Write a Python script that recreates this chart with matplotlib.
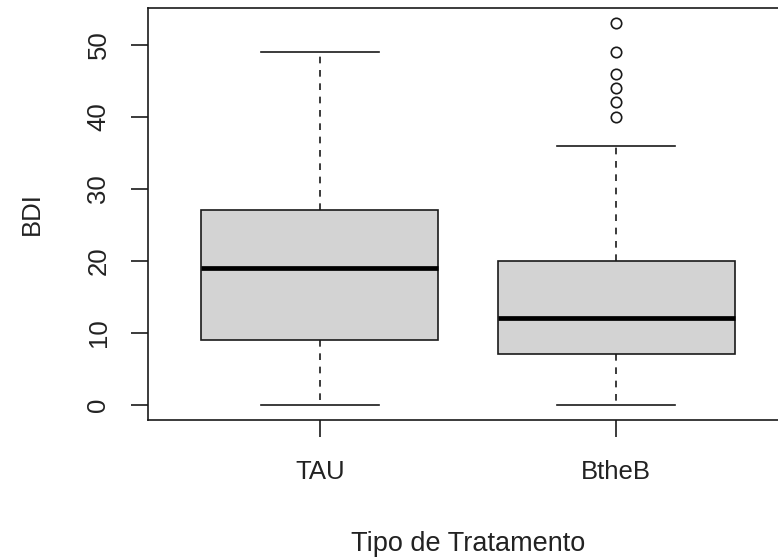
import matplotlib
matplotlib.use("Agg")
import matplotlib.pyplot as plt

plt.rcParams['font.family'] = ['Liberation Sans', 'DejaVu Sans']

# valores
grupos = ["TAU", "BtheB"]
q1 = [9, 7]
mediana = [19, 12]
q3 = [27, 20]
bigote_inf = [0, 0]
bigote_sup = [49, 36]
atipicos = [[], [40, 42, 44, 46, 49, 53]]

stats = []
for i in range(len(grupos)):
    stats.append({
        "label": grupos[i],
        "q1": q1[i], "med": mediana[i], "q3": q3[i],
        "whislo": bigote_inf[i], "whishi": bigote_sup[i],
        "fliers": atipicos[i],
    })

fig = plt.figure(figsize=(7.78, 5.6), dpi=100)
# el borde derecho queda fuera de la imagen, como en la original
ax = fig.add_axes([148 / 778, 140 / 560, 640 / 778, 412 / 560])

lw = 1.2
ax.bxp(stats, positions=[1, 2], widths=0.8, capwidths=0.4, patch_artist=True,
       boxprops=dict(facecolor="#d3d3d3", edgecolor="#1a1a1a", linewidth=lw),
       medianprops=dict(color="black", linewidth=3.4, solid_capstyle="butt"),
       whiskerprops=dict(color="#1a1a1a", linewidth=lw, linestyle=(0, (4, 4))),
       capprops=dict(color="#1a1a1a", linewidth=lw),
       flierprops=dict(marker="o", markerfacecolor="none", markeredgecolor="#1a1a1a",
                       markersize=7.5, markeredgewidth=lw))

ax.set_xlim(0.42, 2.58)
ax.set_ylim(-2.12, 55.12)
ax.set_yticks([0, 10, 20, 30, 40, 50])
ax.set_xticks([1, 2])
ax.set_xticklabels(grupos)

for s in ax.spines.values():
    s.set_linewidth(lw)
    s.set_color("#1a1a1a")

ax.tick_params(axis="both", length=12, width=lw, color="#1a1a1a", labelsize=18.5,
               labelcolor="#222222")
ax.tick_params(axis="x", pad=17)
ax.tick_params(axis="y", pad=15)
for t in ax.get_yticklabels():
    t.set_rotation(90)
    t.set_va("center")

ax.set_xlabel("Tipo de Tratamento", fontsize=19.5, color="#222222")
ax.xaxis.set_label_coords(0.5, -0.301)
ax.xaxis.label.set_va("center")
ax.set_ylabel("BDI", fontsize=18.5, color="#222222")
ax.yaxis.set_label_coords(-0.181, 0.5)
ax.yaxis.label.set_va("center")

plt.savefig("out.png", dpi=100)
